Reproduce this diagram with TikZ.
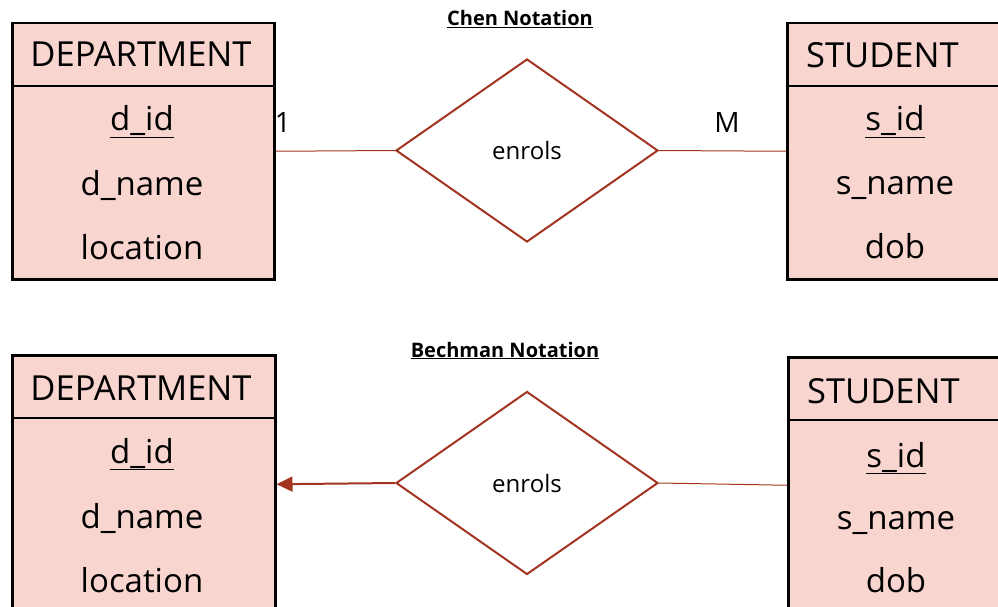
\documentclass[tikz,border=0pt]{standalone}
\usepackage{fontspec}
\setmainfont{Open Sans}
\usetikzlibrary{shapes.geometric,arrows.meta}
\definecolor{entfill}{HTML}{F8D5CF}
\definecolor{relred}{HTML}{A33420}
\tikzset{
  entity/.style={draw=black, line width=2.5pt, fill=entfill, rectangle,
    anchor=north west, inner sep=0pt},
  divider/.style={draw=black, line width=2.5pt},
  entname/.style={anchor=base, inner sep=0pt, font=\fontsize{34.5}{34}\selectfont},
  attr/.style={anchor=base, inner sep=0pt, font=\fontsize{33}{33}\selectfont},
  card/.style={anchor=base, inner sep=0pt, font=\fontsize{28}{28}\selectfont},
  rel/.style={diamond, draw=relred, line width=2pt, fill=white,
    minimum width=262pt, minimum height=183pt, inner sep=0pt},
  reltext/.style={anchor=base, inner sep=0pt, font=\fontsize{24}{24}\selectfont},
  title/.style={anchor=base, inner sep=0pt, font=\bfseries\fontsize{20}{20}\selectfont},
  link/.style={draw=relred, line width=1pt},
  arrowlink/.style={draw=relred, line width=2pt, -{Triangle[length=16pt,width=15pt]}}
}
\begin{document}
\begin{tikzpicture}[x=1pt,y=-1pt]
\useasboundingbox (0,0) rectangle (998,607);
\clip (0,0) rectangle (998,607);

% ---------------- Chen notation ----------------
\node[title] (chenT) at (520,26) {\underline{Chen Notation}};

\node[entity, minimum width=262pt, minimum height=256pt] (deptA) at (11,22) {};
\draw[divider] (11,86) -- (273,86);
\node[entname] (deptAname) at (141,67) {DEPARTMENT};
\node[attr] (deptA1) at (142,131) {\underline{d\_id}};
\node[attr] (deptA2) at (142,195) {d\_name};
\node[attr] (deptA3) at (142,259) {location};

\node[entity, minimum width=240pt, minimum height=256pt] (studA) at (786,22) {};
\draw[divider] (786,86) -- (1026,86);
\node[entname, anchor=base west] (studAname) at (806,68) {STUDENT};
\node[attr] (studA1) at (895,131) {\underline{s\_id}};
\node[attr] (studA2) at (895,194) {s\_name};
\node[attr] (studA3) at (895,258) {dob};

\node[rel] (enrA) at (527,150.5) {};
\node[reltext] (enrAt) at (527,160) {enrols};

\draw[link] (deptA.east) -- (enrA.west);
\draw[link] (enrA.east) -- (studA.west);

\node[card] (cardOne) at (283,132) {1};
\node[card] (cardMany) at (727,132) {M};

% ---------------- Bechman notation ----------------
\node[title] (bechT) at (505,357) {\underline{Bechman Notation}};

\node[entity, minimum width=263pt, minimum height=258pt] (deptB) at (11,354) {};
\draw[divider] (11,418) -- (274,418);
\node[entname] (deptBname) at (141,400) {DEPARTMENT};
\node[attr] (deptB1) at (142,463) {\underline{d\_id}};
\node[attr] (deptB2) at (142,528) {d\_name};
\node[attr] (deptB3) at (142,592) {location};

\node[entity, minimum width=240pt, minimum height=256pt] (studB) at (787,356) {};
\draw[divider] (787,420) -- (1027,420);
\node[entname, anchor=base west] (studBname) at (807,403) {STUDENT};
\node[attr] (studB1) at (896,467) {\underline{s\_id}};
\node[attr] (studB2) at (896,529) {s\_name};
\node[attr] (studB3) at (896,592) {dob};

\node[rel] (enrB) at (527,483) {};
\node[reltext] (enrBt) at (527,492) {enrols};

\draw[arrowlink] (enrB.west) -- (deptB.east);
\draw[link] (enrB.east) -- (studB.west);
\end{tikzpicture}
\end{document}
